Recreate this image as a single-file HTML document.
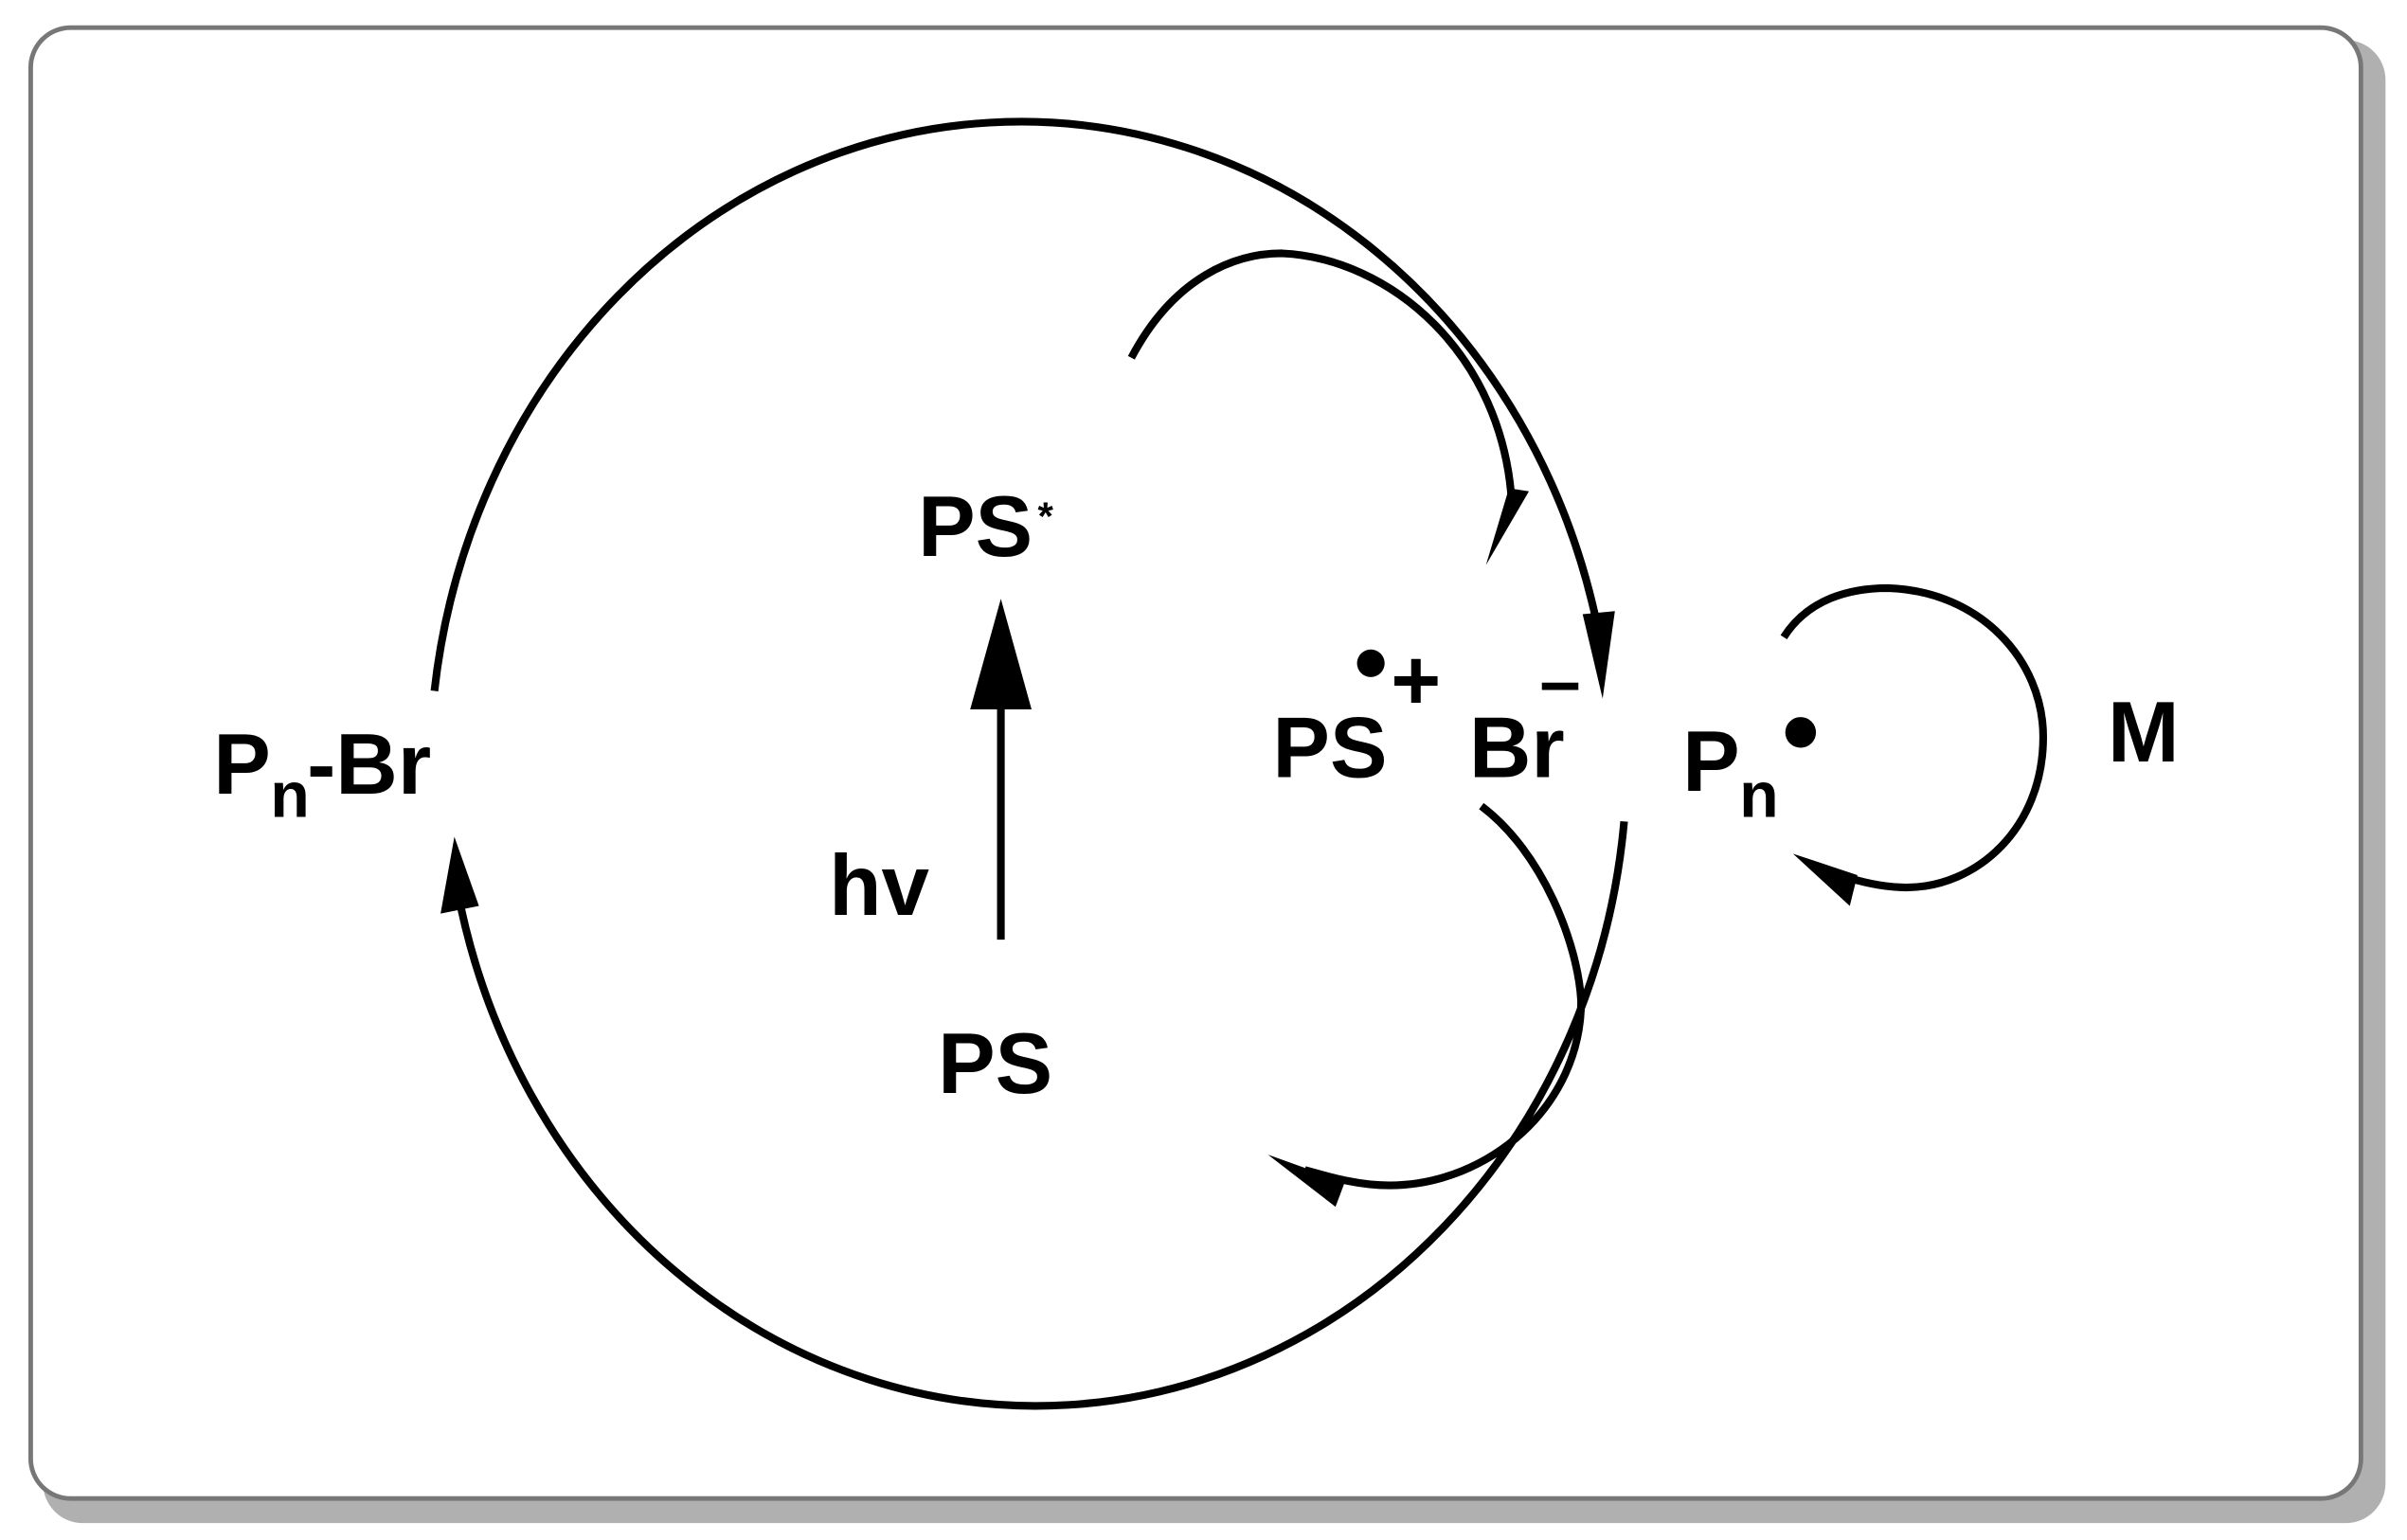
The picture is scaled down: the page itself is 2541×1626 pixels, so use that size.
<!DOCTYPE html>
<html><head><meta charset="utf-8"><style>
html,body{margin:0;padding:0;background:#fff;}
svg{display:block;}
text{font-family:"Liberation Sans",Arial,sans-serif;font-weight:bold;fill:#000;}
</style></head><body>
<svg width="2541" height="1626" viewBox="0 0 1568 1003" preserveAspectRatio="none" xmlns="http://www.w3.org/2000/svg">
<rect x="0" y="0" width="1568" height="1003" fill="#fff"/>
<rect x="28" y="26" width="1526" height="966" rx="26" fill="#b0b0b0"/>
<rect x="20" y="18" width="1518" height="958" rx="26" fill="#fff" stroke="#777" stroke-width="3"/>
<g fill="none" stroke="#000" stroke-width="5">
<path d="M283,450 A385,422 0 0 1 1040,405"/>
<path d="M1058,535 A385,422 0 0 1 298,580"/>
<path d="M737,233 C765,180 805,165 835,165 C905,168 980,230 985,330"/>
<path d="M965,525 C1005,555 1028,615 1030,652 C1030,720 970,772 905,772 C885,772 868,767 850,762"/>
<path d="M1162,415 C1178,390 1205,383 1230,383 C1290,385 1331,430 1331,480 C1331,540 1287,578 1242,578 C1228,578 1215,575 1205,572"/>
<line x1="652" y1="612" x2="652" y2="455"/>
</g>
<g fill="#000">
<polygon points="652,390 632,462 672,462"/>
<polygon points="1044,455 1031,400 1052,398"/>
<polygon points="296,545 287,595 312,590"/>
<polygon points="968,368 983,318 996,320"/>
<polygon points="826,752 876,770 870,786"/>
<polygon points="1168,556 1210,570 1205,590"/>
<circle cx="893" cy="432" r="9"/>
<circle cx="1173" cy="477" r="10"/>
</g>
<g font-size="56">
<text x="598" y="362">PS</text>
<text x="540" y="596">hv</text>
<text x="611" y="712">PS</text>
<text x="139" y="517">P</text>
<text x="200" y="517">-Br</text>
<text x="829" y="506">PS</text>
<text x="957" y="506">Br</text>
<text x="1096" y="515">P</text>
<text x="1373" y="496">M</text>
<text x="906" y="462">+</text>
</g>
<text x="676" y="345" font-size="26">*</text>
<text x="176" y="532" font-size="42">n</text>
<text x="1133" y="532" font-size="42">n</text>
<text x="1003" y="460" font-size="48">–</text>
</svg>
</body></html>
